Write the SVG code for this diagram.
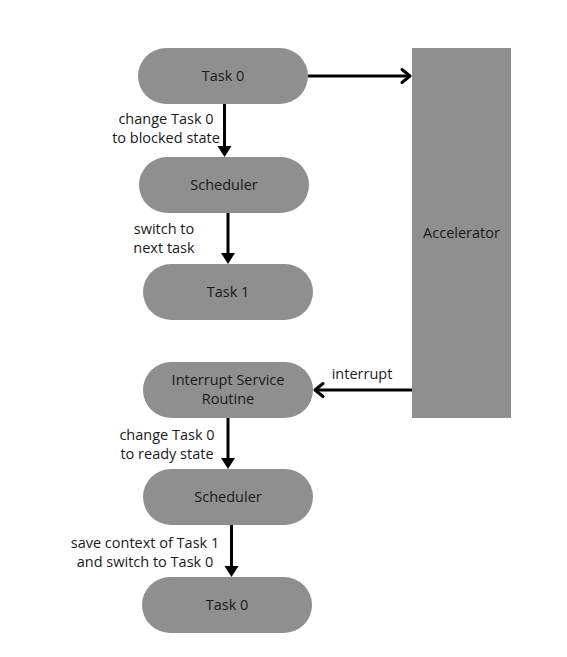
<svg xmlns="http://www.w3.org/2000/svg" width="567" height="657" viewBox="0 0 567 657">
<style>
.node{fill:#8f8f8f;}
.t{font-family:"Open Sans","Liberation Sans",sans-serif;font-size:14.5px;fill:#1a1a1a;text-anchor:middle;}
.c{stroke:#000;stroke-width:3;fill:none;}
.open{stroke:#000;stroke-width:3;fill:none;stroke-linecap:round;stroke-linejoin:round;}
.head{fill:#000;}
</style>
<rect width="567" height="657" fill="#fff"/>
<g id="task0-top"><rect class="node" x="138" y="48" width="170" height="56" rx="28"/><text class="t" x="223" y="81">Task 0</text></g>
<g id="scheduler1"><rect class="node" x="139" y="157" width="170" height="56" rx="28"/><text class="t" x="224" y="190">Scheduler</text></g>
<g id="task1"><rect class="node" x="143" y="264" width="170" height="56" rx="28"/><text class="t" x="228" y="297">Task 1</text></g>
<g id="accelerator"><rect class="node" x="412" y="48" width="99" height="370"/><text class="t" x="461.5" y="238">Accelerator</text></g>
<g id="isr"><rect class="node" x="143" y="362" width="170" height="56" rx="28"/><text class="t" x="228" y="385">Interrupt Service</text><text class="t" x="228" y="404">Routine</text></g>
<g id="scheduler2"><rect class="node" x="143" y="469" width="170" height="56" rx="28"/><text class="t" x="228" y="502">Scheduler</text></g>
<g id="task0-bottom"><rect class="node" x="142" y="577" width="170" height="56" rx="28"/><text class="t" x="227" y="610">Task 0</text></g>
<g id="connectors">
<line class="c" x1="308" y1="76" x2="410" y2="76"/>
<polyline class="open" points="402,69.5 410,76 402,82.5"/>
<line class="c" x1="224.5" y1="104" x2="224.5" y2="148"/>
<polygon class="head" points="217.5,146 231.5,146 224.5,157"/>
<line class="c" x1="228" y1="213" x2="228" y2="255"/>
<polygon class="head" points="221,253 235,253 228,264"/>
<line class="c" x1="412" y1="390" x2="315" y2="390"/>
<polyline class="open" points="323,383.5 315,390 323,396.5"/>
<line class="c" x1="228" y1="418" x2="228" y2="460"/>
<polygon class="head" points="221,458 235,458 228,469"/>
<line class="c" x1="231.5" y1="525" x2="231.5" y2="568"/>
<polygon class="head" points="224.5,566 238.5,566 231.5,577"/>
</g>
<g id="labels">
<text class="t" x="166" y="124">change Task 0</text>
<text class="t" x="166" y="143">to blocked state</text>
<text class="t" x="164" y="234">switch to</text>
<text class="t" x="164" y="253">next task</text>
<text class="t" x="362" y="379">interrupt</text>
<text class="t" x="167" y="440">change Task 0</text>
<text class="t" x="167" y="459">to ready state</text>
<text class="t" x="145" y="548">save context of Task 1</text>
<text class="t" x="145" y="567">and switch to Task 0</text>
</g>
</svg>
